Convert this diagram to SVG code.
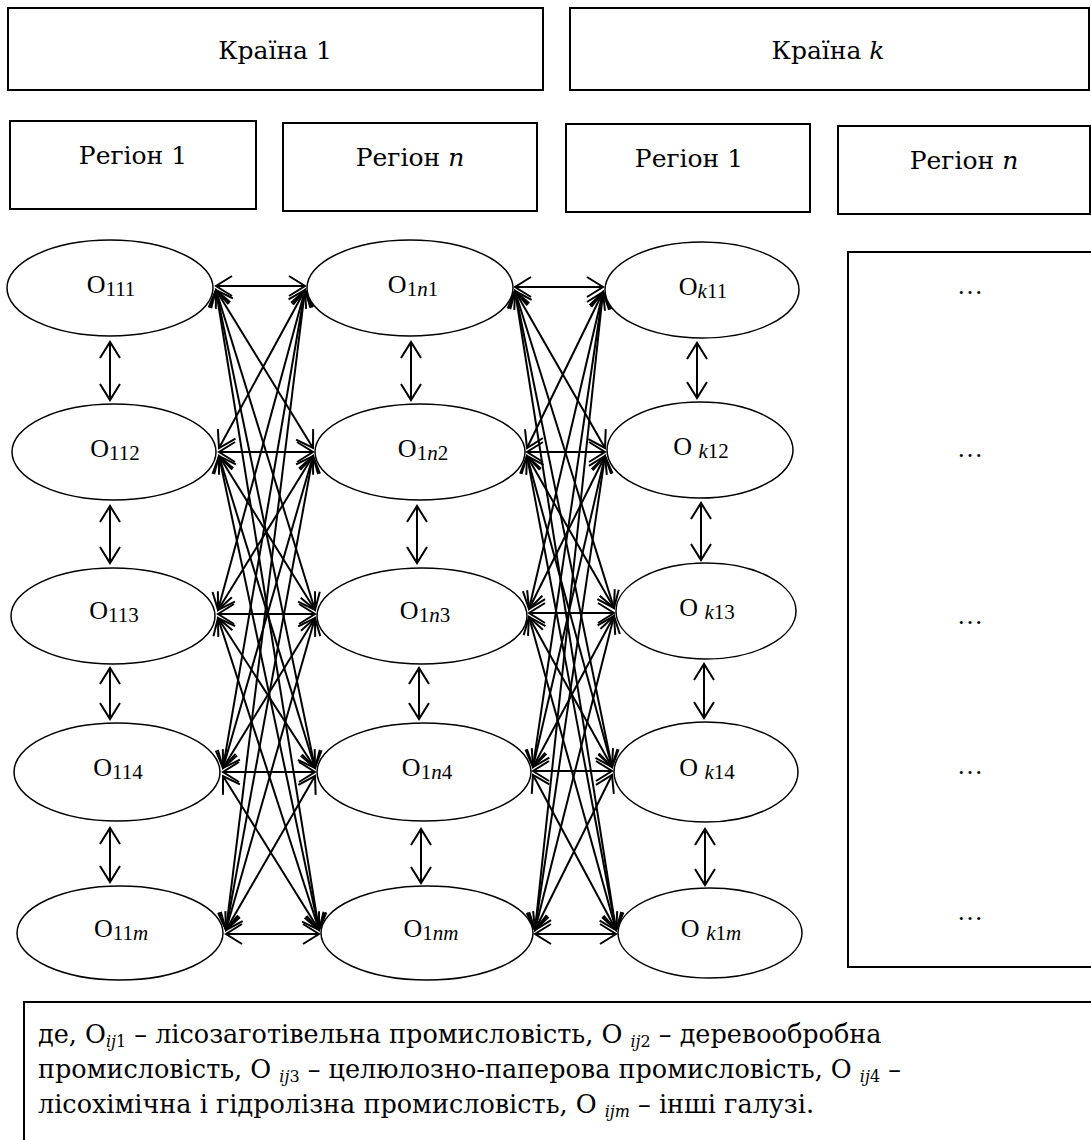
<svg xmlns="http://www.w3.org/2000/svg" width="1091" height="1140" viewBox="0 0 1091 1140" font-family="Liberation Serif, DejaVu Serif, serif">
  <style>
    .box { fill: #fff; stroke: #000; stroke-width: 2; }
    .node { fill: #fff; stroke: #000; stroke-width: 1.5; }
    text { fill: #000; }
    .o { font-family: "Liberation Serif", "DejaVu Serif", serif; font-size: 26px; text-anchor: middle; }
    .sub { font-size: 21px; }
    .cyr { font-family: "DejaVu Serif", "Liberation Serif", serif; }
    .lbl { font-size: 25px; text-anchor: middle; }
    .note { font-size: 25.5px; }
    .nsub { font-size: 16px; }
    .it { font-style: italic; }
    .link line { stroke: #000; stroke-width: 2; marker-start: url(#arr); marker-end: url(#arr); }
  </style>
  <defs>
    <marker id="arr" viewBox="0 0 18 22" refX="17" refY="11" markerWidth="18" markerHeight="22" markerUnits="userSpaceOnUse" orient="auto-start-reverse" overflow="visible">
      <path d="M1,1 L17,11 L1,21" fill="none" stroke="#000" stroke-width="2"/>
    </marker>
  </defs>
  <rect width="1091" height="1140" fill="#fff"/>

  <!-- countries -->
  <g id="country-1"><rect class="box" x="8" y="8" width="535" height="82"/><text class="lbl cyr" x="275" y="59">Країна 1</text></g>
  <g id="country-k"><rect class="box" x="570" y="8" width="519" height="82"/><text class="lbl cyr" x="828" y="59">Країна <tspan class="it">k</tspan></text></g>

  <!-- regions -->
  <g id="region-1-1"><rect class="box" x="10" y="121" width="246" height="88"/><text class="lbl cyr" x="133" y="164">Регіон 1</text></g>
  <g id="region-1-n"><rect class="box" x="283" y="123" width="254" height="88"/><text class="lbl cyr" x="410" y="166">Регіон <tspan class="it">n</tspan></text></g>
  <g id="region-k-1"><rect class="box" x="566" y="124" width="244" height="88"/><text class="lbl cyr" x="689" y="167">Регіон 1</text></g>
  <g id="region-k-n"><rect class="box" x="838" y="126" width="252" height="88"/><text class="lbl cyr" x="964" y="169">Регіон <tspan class="it">n</tspan></text></g>

  <!-- connectors -->
  <g id="connectors" class="link">
    <!-- vertical, column 1 -->
    <line x1="110" y1="342" x2="110" y2="400"/>
    <line x1="110" y1="506" x2="110" y2="563"/>
    <line x1="110" y1="668" x2="110" y2="719"/>
    <line x1="110" y1="828" x2="110" y2="882"/>
    <!-- vertical, column 2 -->
    <line x1="411" y1="342" x2="411" y2="400"/>
    <line x1="417" y1="506" x2="417" y2="563"/>
    <line x1="419" y1="668" x2="419" y2="719"/>
    <line x1="421" y1="829" x2="421" y2="883"/>
    <!-- vertical, column 3 -->
    <line x1="697" y1="343" x2="697" y2="398"/>
    <line x1="701" y1="503" x2="701" y2="560"/>
    <line x1="704" y1="664" x2="704" y2="718"/>
    <line x1="705" y1="829" x2="705" y2="885"/>

    <!-- region 1 (country 1) to region n (country 1) -->
    <line x1="216" y1="286" x2="305" y2="286"/>
    <line x1="216" y1="290" x2="313" y2="448"/>
    <line x1="216" y1="290" x2="315" y2="610"/>
    <line x1="216" y1="290" x2="315" y2="768"/>
    <line x1="216" y1="290" x2="319" y2="930"/>
    <line x1="219" y1="448" x2="305" y2="290"/>
    <line x1="219" y1="452" x2="313" y2="452"/>
    <line x1="219" y1="456" x2="315" y2="610"/>
    <line x1="219" y1="456" x2="315" y2="768"/>
    <line x1="219" y1="456" x2="319" y2="930"/>
    <line x1="218" y1="610" x2="305" y2="290"/>
    <line x1="218" y1="610" x2="313" y2="456"/>
    <line x1="218" y1="614" x2="315" y2="614"/>
    <line x1="218" y1="618" x2="315" y2="768"/>
    <line x1="218" y1="618" x2="319" y2="930"/>
    <line x1="223" y1="768" x2="305" y2="290"/>
    <line x1="223" y1="768" x2="313" y2="456"/>
    <line x1="223" y1="768" x2="315" y2="618"/>
    <line x1="223" y1="772" x2="315" y2="772"/>
    <line x1="223" y1="776" x2="319" y2="930"/>
    <line x1="226" y1="930" x2="305" y2="290"/>
    <line x1="226" y1="930" x2="313" y2="456"/>
    <line x1="226" y1="930" x2="315" y2="618"/>
    <line x1="226" y1="930" x2="315" y2="776"/>
    <line x1="226" y1="934" x2="319" y2="934"/>

    <!-- region n (country 1) to region 1 (country k) -->
    <line x1="515" y1="287" x2="603" y2="287"/>
    <line x1="515" y1="291" x2="605" y2="448"/>
    <line x1="515" y1="291" x2="614" y2="608"/>
    <line x1="515" y1="291" x2="612" y2="767"/>
    <line x1="515" y1="291" x2="616" y2="930"/>
    <line x1="527" y1="448" x2="603" y2="292"/>
    <line x1="527" y1="452" x2="605" y2="452"/>
    <line x1="527" y1="456" x2="614" y2="608"/>
    <line x1="527" y1="456" x2="612" y2="767"/>
    <line x1="527" y1="456" x2="616" y2="930"/>
    <line x1="529" y1="609" x2="603" y2="292"/>
    <line x1="529" y1="609" x2="605" y2="456"/>
    <line x1="529" y1="613" x2="614" y2="613"/>
    <line x1="529" y1="617" x2="612" y2="767"/>
    <line x1="529" y1="617" x2="616" y2="930"/>
    <line x1="533" y1="767" x2="603" y2="292"/>
    <line x1="533" y1="767" x2="605" y2="456"/>
    <line x1="533" y1="767" x2="614" y2="616"/>
    <line x1="533" y1="771" x2="612" y2="771"/>
    <line x1="533" y1="775" x2="616" y2="930"/>
    <line x1="535" y1="930" x2="603" y2="292"/>
    <line x1="535" y1="930" x2="605" y2="456"/>
    <line x1="535" y1="930" x2="614" y2="616"/>
    <line x1="535" y1="930" x2="612" y2="775"/>
    <line x1="535" y1="934" x2="616" y2="934"/>
  </g>

  <!-- industries, region 1 of country 1 -->
  <g id="o111"><ellipse class="node" cx="110" cy="288" rx="103" ry="48"/><text class="o" x="111" y="293">O<tspan class="sub" dy="3">111</tspan></text></g>
  <g id="o112"><ellipse class="node" cx="114" cy="452" rx="102" ry="48"/><text class="o" x="115" y="457">O<tspan class="sub" dy="3">112</tspan></text></g>
  <g id="o113"><ellipse class="node" cx="113" cy="616" rx="102" ry="48"/><text class="o" x="114" y="619">O<tspan class="sub" dy="3">113</tspan></text></g>
  <g id="o114"><ellipse class="node" cx="117" cy="772" rx="103" ry="49"/><text class="o" x="118" y="776">O<tspan class="sub" dy="3">114</tspan></text></g>
  <g id="o11m"><ellipse class="node" cx="120" cy="933" rx="103" ry="47"/><text class="o" x="121" y="937">O<tspan class="sub" dy="3">11<tspan class="it">m</tspan></tspan></text></g>

  <!-- industries, region n of country 1 -->
  <g id="o1n1"><ellipse class="node" cx="410" cy="288" rx="103" ry="48"/><text class="o" x="413" y="293">O<tspan class="sub" dy="3">1<tspan class="it">n</tspan>1</tspan></text></g>
  <g id="o1n2"><ellipse class="node" cx="420" cy="452" rx="105" ry="48"/><text class="o" x="423" y="457">O<tspan class="sub" dy="3">1<tspan class="it">n</tspan>2</tspan></text></g>
  <g id="o1n3"><ellipse class="node" cx="422" cy="616" rx="105" ry="48"/><text class="o" x="425" y="619">O<tspan class="sub" dy="3">1<tspan class="it">n</tspan>3</tspan></text></g>
  <g id="o1n4"><ellipse class="node" cx="424" cy="772" rx="107" ry="49"/><text class="o" x="427" y="776">O<tspan class="sub" dy="3">1<tspan class="it">n</tspan>4</tspan></text></g>
  <g id="o1nm"><ellipse class="node" cx="427" cy="933" rx="106" ry="47"/><text class="o" x="431" y="937">O<tspan class="sub" dy="3">1<tspan class="it">nm</tspan></tspan></text></g>

  <!-- industries, region 1 of country k -->
  <g id="ok11"><ellipse class="node" cx="702" cy="290" rx="97" ry="48"/><text class="o" x="703" y="295">O<tspan class="sub" dy="3"><tspan class="it">k</tspan>11</tspan></text></g>
  <g id="ok12"><ellipse class="node" cx="700" cy="450" rx="93" ry="48"/><text class="o" x="701" y="455">O <tspan class="sub" dy="3"><tspan class="it">k</tspan>12</tspan></text></g>
  <g id="ok13"><ellipse class="node" cx="706" cy="611" rx="90" ry="48"/><text class="o" x="707" y="616">O <tspan class="sub" dy="3"><tspan class="it">k</tspan>13</tspan></text></g>
  <g id="ok14"><ellipse class="node" cx="706" cy="772" rx="92" ry="50"/><text class="o" x="707" y="776">O <tspan class="sub" dy="3"><tspan class="it">k</tspan>14</tspan></text></g>
  <g id="ok1m"><ellipse class="node" cx="710" cy="933" rx="92" ry="45"/><text class="o" x="711" y="937">O <tspan class="sub" dy="3"><tspan class="it">k</tspan>1<tspan class="it">m</tspan></tspan></text></g>

  <!-- remaining regions, elided -->
  <g id="others">
    <rect class="box" x="848" y="252" width="260" height="715" stroke-width="1.6"/>
    <text class="o" x="970" y="294">…</text>
    <text class="o" x="970" y="457">…</text>
    <text class="o" x="970" y="624">…</text>
    <text class="o" x="970" y="774">…</text>
    <text class="o" x="970" y="920">…</text>
  </g>

  <!-- legend -->
  <g id="legend">
    <rect class="box" x="24" y="1002" width="1100" height="200"/>
    <text class="note cyr" x="38" y="1043">де, O<tspan class="nsub" dy="4"><tspan class="it">ij</tspan>1</tspan><tspan dy="-4"> – лісозаготівельна промисловість, О </tspan><tspan class="nsub" dy="4"><tspan class="it">ij</tspan>2</tspan><tspan dy="-4"> – деревообробна</tspan></text>
    <text class="note cyr" x="38" y="1078">промисловість, О <tspan class="nsub" dy="4"><tspan class="it">ij</tspan>3</tspan><tspan dy="-4"> – целюлозно-паперова промисловість, О </tspan><tspan class="nsub" dy="4"><tspan class="it">ij</tspan>4</tspan><tspan dy="-4"> –</tspan></text>
    <text class="note cyr" x="38" y="1113">лісохімічна і гідролізна промисловість, О <tspan class="nsub it" dy="4">ijm</tspan><tspan dy="-4"> – інші галузі.</tspan></text>
  </g>
</svg>
